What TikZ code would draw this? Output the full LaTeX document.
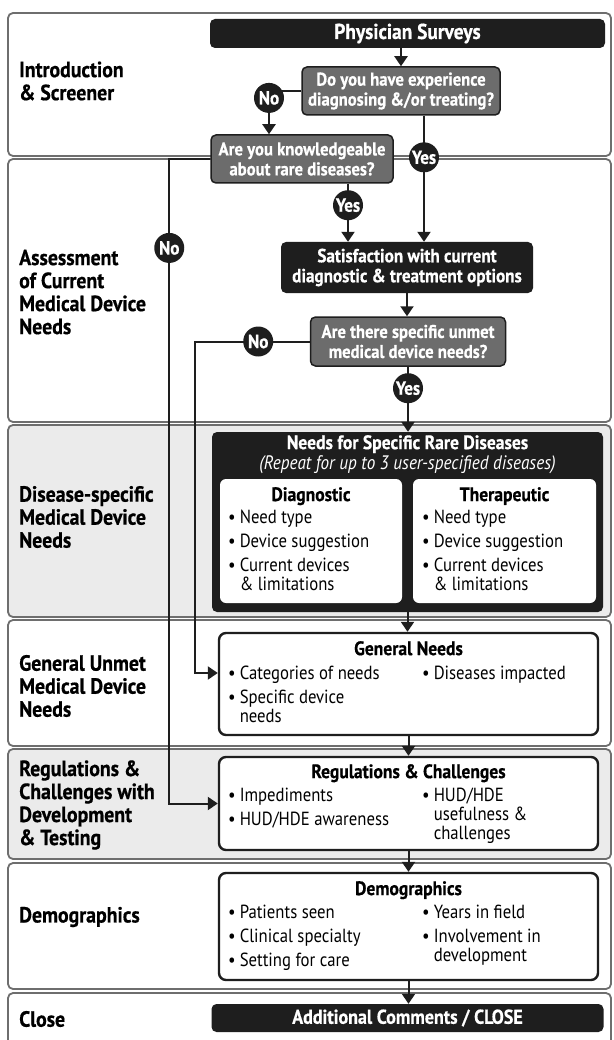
\documentclass[tikz,border=0pt]{standalone}
\usepackage{fontspec}
\setmainfont{PT Sans}[FakeStretch=0.88, BoldFeatures={FakeStretch=0.9, FakeBold=0.6}]
\usepackage{tikz}
\usetikzlibrary{arrows,arrows.meta}

\definecolor{lanegray}{HTML}{EBEBEB}
\definecolor{laneline}{HTML}{6E6E6E}
\definecolor{askgray}{HTML}{6C6C6C}
\definecolor{boxblack}{HTML}{1E1E1E}

\tikzset{
  lane/.style={draw=laneline, line width=1.8pt, rounded corners=5pt},
  lanelabel/.style={anchor=west, align=left, inner sep=0pt,
    font=\bfseries\fontsize{22}{23}\selectfont},
  blackbox/.style={fill=boxblack, rounded corners=5pt, text=white,
    font=\bfseries\fontsize{20}{20}\selectfont, align=center, inner sep=0pt},
  askbox/.style={fill=askgray, draw=boxblack, line width=1.5pt, rounded corners=5pt,
    text=white, font=\bfseries\fontsize{18.5}{20}\selectfont, align=center, inner sep=0pt},
  answer/.style={circle, fill=boxblack, text=white, inner sep=0pt, minimum size=30pt,
    font=\bfseries\fontsize{19}{19}\selectfont},
  listbox/.style={draw=boxblack, fill=white, line width=2.4pt, rounded corners=7pt, inner sep=0pt},
  boxtitle/.style={anchor=north, inner sep=0pt, align=center,
    font=\bfseries\fontsize{19.5}{20}\selectfont},
  bullets/.style={anchor=north west, inner sep=0pt, align=left,
    font=\fontsize{19}{19}\selectfont},
  flow/.style={-{Triangle[length=10pt,width=13pt]}, line width=2pt, draw=boxblack},
}
\newcommand{\bul}{\textbullet\hspace{4pt}}
\newcommand{\cont}{\phantom{\textbullet}\hspace{4pt}}

\begin{document}
\begin{tikzpicture}[x=1pt, y=-1pt]
    \useasboundingbox (0,0) rectangle (613,1040);
    \clip (0,0) rectangle (613,1040);

    % swim lanes
    \draw[lane, fill=white]     (8,13)  rectangle (611,156);
    \draw[lane, fill=white]     (8,159) rectangle (611,422);
    \draw[lane, fill=lanegray]  (8,425) rectangle (611,617);
    \draw[lane, fill=white]     (8,620) rectangle (611,746);
    \draw[lane, fill=lanegray]  (8,749) rectangle (611,859);
    \draw[lane, fill=white]     (8,863) rectangle (611,989);
    \draw[lane, fill=white]     (8,993) rectangle (611,1060);

    % lane labels
    \node[lanelabel] (intro)   at (19,81)   {Introduction\\\& Screener};
    \node[lanelabel] (assess)  at (19,292)  {Assessment\\of Current\\Medical Device\\Needs};
    \node[lanelabel] (disease) at (19,517)  {Disease-specific\\Medical Device\\Needs};
    \node[lanelabel] (general) at (19,686)  {General Unmet\\Medical Device\\Needs};
    \node[lanelabel] (regul)   at (19,805)  {Regulations \&\\Challenges with\\Development\\\& Testing};
    \node[lanelabel] (demog)   at (19,917)  {Demographics};
    \node[lanelabel] (close)   at (19,1019) {Close};

    % flow boxes
    \node[blackbox, minimum width=395pt, minimum height=29pt,
          font=\bfseries\fontsize{21.5}{22}\selectfont] (ps) at (407.5,33.5) {Physician Surveys};
    \node[askbox, minimum width=198pt, minimum height=48pt] (q1) at (401,91)
        {Do you have experience\\diagnosing \&/or treating?};
    \node[askbox, minimum width=182pt, minimum height=48pt] (q2) at (302,159)
        {Are you knowledgeable\\about rare diseases?};
    \node[blackbox, minimum width=252pt, minimum height=51pt,
          font=\bfseries\fontsize{19}{20}\selectfont] (sat) at (407,267.5)
        {Satisfaction with current\\diagnostic \& treatment options};
    \node[askbox, minimum width=195pt, minimum height=49pt] (q3) at (408,341.5)
        {Are there specific unmet\\medical device needs?};

    % disease-specific needs
    \node[blackbox, minimum width=391pt, minimum height=180pt] (needs) at (407.5,522) {};
    \node[boxtitle, text=white] (needstitle) at (407.5,435)
        {Needs for Specific Rare Diseases\\{\mdseries\itshape (Repeat for up to 3 user-specified diseases)}};
    \node[fill=white, rounded corners=6pt, minimum width=182pt, minimum height=124pt] (diag) at (311,541) {};
    \node[fill=white, rounded corners=6pt, minimum width=183pt, minimum height=124pt] (ther) at (504.5,541) {};
    \node[boxtitle] (diagtitle) at (311,487) {Diagnostic};
    \node[boxtitle] (thertitle) at (504.5,487) {Therapeutic};
    \node[bullets] (diaglist) at (228,510)
        {\bul Need type\\[5pt]\bul Device suggestion\\[5pt]\bul Current devices\\\cont\& limitations};
    \node[bullets] (therlist) at (422,510)
        {\bul Need type\\[5pt]\bul Device suggestion\\[5pt]\bul Current devices\\\cont\& limitations};

    % general needs
    \node[listbox, minimum width=379pt, minimum height=102pt] (gn) at (408.5,684) {};
    \node[boxtitle] (gntitle) at (408.5,641) {General Needs};
    \node[bullets] (gnleft) at (228,666) {\bul Categories of needs\\[5pt]\bul Specific device\\\cont needs};
    \node[bullets] (gnright) at (422,666) {\bul Diseases impacted};

    % regulations
    \node[listbox, minimum width=379pt, minimum height=93pt] (reg) at (408.5,803.5) {};
    \node[boxtitle] (regtitle) at (408.5,764) {Regulations \& Challenges};
    \node[bullets] (regleft) at (228,788) {\bul Impediments\\[5pt]\bul HUD/HDE awareness};
    \node[bullets] (regright) at (422,788) {\bul HUD/HDE\\\cont usefulness \&\\\cont challenges};

    % demographics
    \node[listbox, minimum width=379pt, minimum height=107pt] (demo) at (408.5,926.5) {};
    \node[boxtitle] (demotitle) at (408.5,881) {Demographics};
    \node[bullets] (demoleft) at (228,905) {\bul Patients seen\\[5pt]\bul Clinical specialty\\[5pt]\bul Setting for care};
    \node[bullets] (demoright) at (422,905) {\bul Years in field\\[5pt]\bul Involvement in\\\cont development};

    \node[blackbox, minimum width=392pt, minimum height=28pt] (cl) at (407.5,1018) {Additional Comments / CLOSE};

    % connectors
    \draw[flow] (ps.south -| q1.north) -- (q1.north);
    \draw[flow] (q1.west) -| node[answer, pos=0.58] (no1) {No} ([xshift=-33pt]q2.north);
    \draw[flow] ([xshift=23pt]q1.south) -- node[answer, pos=0.33] (yes1) {Yes}
        ([xshift=23pt]q1.south |- sat.north);
    \draw[flow] ([xshift=46pt]q2.south) -- node[answer, pos=0.37] (yes2) {Yes}
        ([xshift=46pt]q2.south |- sat.north);
    \draw[flow] (q2.west) -- ++(-41,0) |- node[answer, pos=0.069] (no2) {No} (reg.west);
    \draw[flow] (sat.south) -- (sat.south |- q3.north);
    \draw[flow] (q3.west) -- node[answer, pos=0.45] (no3) {No} ++(-114.5,0) |- ([yshift=11pt]gn.west);
    \draw[flow] (q3.south) -- node[answer, pos=0.33] (yes3) {Yes} (q3.south |- needs.north);
    \draw[flow] (needs.south) -- (needs.south |- gn.north);
    \draw[flow] (gn.south) -- (reg.north);
    \draw[flow] (reg.south) -- (demo.north);
    \draw[flow] (demo.south) -- (demo.south |- cl.north);

\end{tikzpicture}
\end{document}
